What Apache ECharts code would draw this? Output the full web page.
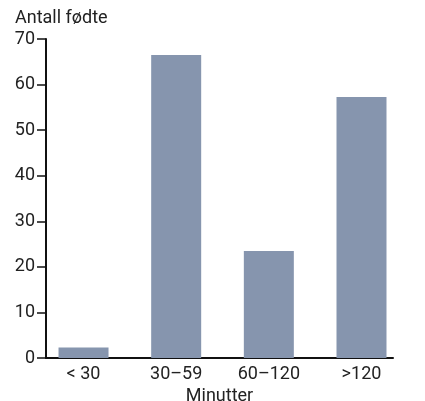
<!DOCTYPE html>
<html><head><meta charset="utf-8">
<script src="https://cdn.jsdelivr.net/npm/echarts@6/dist/echarts.min.js"></script>
<style>html,body{margin:0;padding:0;background:#fff}#c{width:425px;height:401px}</style>
</head><body><div id="c"></div>
<script>
const categories = ['< 30', '30–59', '60–120', '>120'];
const values = [2.3, 66.5, 23.5, 57.3];
const yTicks = [0, 10, 20, 30, 40, 50, 60, 70];
const yTitle = 'Antall fødte';
const xTitle = 'Minutter';

const font = 'Roboto, "DejaVu Sans", sans-serif';
const chart = echarts.init(document.getElementById('c'), null, {renderer: 'canvas'});
chart.setOption({
  animation: false,
  textStyle: {fontFamily: font},
  title: {text: yTitle, left: 10, top: 4, textStyle: {fontSize: 18, fontWeight: 'normal', color: '#222', fontFamily: font}},
  grid: {left: 46, right: 32, top: 39, bottom: 43, containLabel: false, outerBoundsMode: 'none'},
  xAxis: {
    type: 'value', min: -0.405, max: 3.34,
    name: xTitle, nameLocation: 'middle', nameGap: 26,
    nameTextStyle: {fontSize: 18, color: '#222'},
    axisLine: {show: true, onZero: false, lineStyle: {color: '#111', width: 2}},
    axisTick: {show: false},
    splitLine: {show: false},
    axisLabel: {customValues: categories.map((c, i) => i), formatter: v => categories[Math.round(v)], fontSize: 18, color: '#222', margin: 7}
  },
  yAxis: {
    type: 'value', min: 0, max: 70, interval: 10,
    axisLine: {show: true, onZero: false, lineStyle: {color: '#111', width: 2}},
    axisTick: {show: true, length: 9, lineStyle: {color: '#111', width: 1.5}},
    splitLine: {show: false},
    axisLabel: {fontSize: 18, color: '#222', margin: 11}
  },
  series: [{
    type: 'bar', barWidth: 50,
    itemStyle: {color: '#8695ae'},
    data: values.map((v, i) => [i, v])
  }]
});
</script></body></html>
